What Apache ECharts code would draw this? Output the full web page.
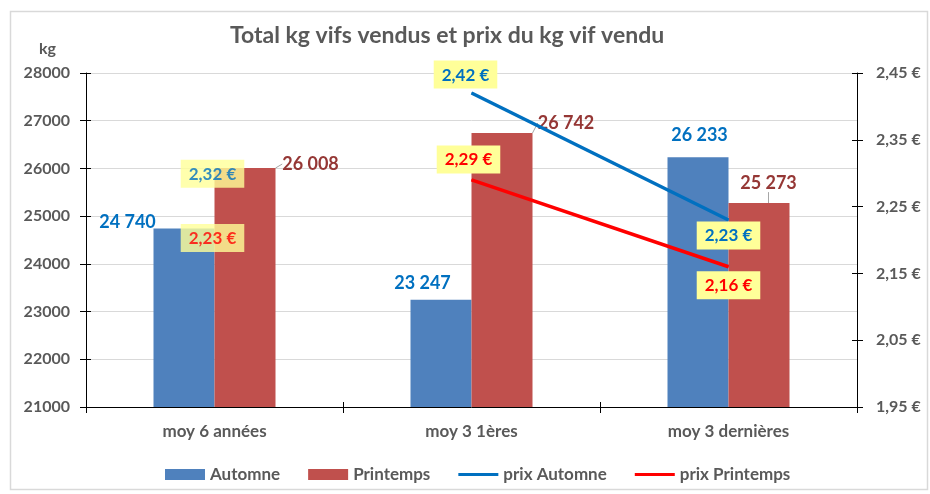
<!DOCTYPE html>
<html>
<head>
<meta charset="utf-8">
<script src="https://cdn.jsdelivr.net/npm/echarts@6/dist/echarts.min.js"></script>
<style>
  html, body { margin: 0; padding: 0; background: #fff; }
  #chart { width: 930px; height: 494px; }
</style>
</head>
<body>
<div id="chart"></div>
<script>
// données
var categories = ['moy 6 années', 'moy 3 1ères', 'moy 3 dernières'];
var kgAutomne = [24740, 23247, 26233];
var kgPrintemps = [26008, 26742, 25273];
var prixAutomne = [2.32, 2.42, 2.23];
var prixPrintemps = [2.23, 2.29, 2.16];
var kgMin = 21000, kgMax = 28000, kgStep = 1000;
var prixMin = 1.95, prixMax = 2.45, prixStep = 0.1;

var FONT = 'Lato';
var GREY = '#595959';

var chart_dom = document.getElementById('chart');
var chart = echarts.init(chart_dom);

// position des étiquettes des barres (par rapport au coin haut-gauche de la barre)
var posAutomne = [[-26, -6], [12, -17], [32, -22]];
var posPrintemps = [[96, -4], null, [40, -20]];

function fmtKg(v) {
    return String(v).replace(/\B(?=(\d{3})+(?!\d))/g, ' ');
}
function fmtPrix(v) {
    return v.toFixed(2).replace('.', ',') + ' €';
}

function barData(values, pos) {
    return values.map(function (v, i) {
        var lab = pos[i] ? {position: pos[i], align: 'center', verticalAlign: 'middle'} : {position: 'top', distance: 5};
        return {value: v, label: lab};
    });
}

// étiquettes jaunes des prix
var prixLabel = function (color) {
    return {
        show: true,
        color: color,
        fontFamily: FONT,
        fontWeight: 'bold',
        fontSize: 17,
        backgroundColor: '#FFFF99',
        padding: [6, 8, 5, 8],
        formatter: function (p) { return fmtPrix(p.value); }
    };
};
var prixAutPos = [{position: 'bottom', distance: 0, offset: [-2, 0]},
                  {position: 'top', distance: 4, offset: [-6, 0]},
                  {position: 'bottom', distance: 1, offset: [0, 0]}];
var prixPrinPos = [{position: 'bottom', distance: 4, offset: [-2, 0]},
                   {position: 'top', distance: 6, offset: [-3, 0]},
                   {position: 'bottom', distance: 4, offset: [0, 0]}];

// la première valeur n'est pas reliée aux suivantes
function lineData(values, pos) {
    return values.map(function (v, i) {
        if (i == 0) return '-';
        return {value: v, label: pos[i]};
    });
}
function firstPoint(values, pos) {
    return values.map(function (v, i) {
        if (i != 0) return '-';
        return {value: v, label: pos[i]};
    });
}

var axisLabelStyle = {color: GREY, fontFamily: FONT, fontWeight: 'bold', fontSize: 16};

var option = {
    animation: false,
    backgroundColor: '#fff',
    title: {
        text: 'Total kg vifs vendus et prix du kg vif vendu',
        left: 225,
        top: 19,
        textStyle: {color: GREY, fontFamily: FONT, fontWeight: 'bold', fontSize: 23}
    },
    graphic: [
        {type: 'rect', shape: {x: 10.5, y: 11.5, width: 917, height: 478}, style: {fill: 'none', stroke: '#D9D9D9', lineWidth: 1.5}, silent: true},
        {type: 'text', left: 39, top: 41, style: {text: 'kg', fill: GREY, font: 'bold 16px ' + FONT}}
    ],
    legend: {
        left: 160,
        top: 461,
        itemWidth: 40,
        itemHeight: 11,
        itemGap: 28,
        textStyle: {color: GREY, fontFamily: FONT, fontWeight: 'bold', fontSize: 17},
        data: [
            {name: 'Automne', icon: 'rect'},
            {name: 'Printemps', icon: 'rect'},
            {name: 'prix Automne', icon: 'path://M0,0 L40,0 L40,3 L0,3 Z'},
            {name: 'prix Printemps', icon: 'path://M0,0 L40,0 L40,3 L0,3 Z'}
        ]
    },
    grid: {left: 86, right: 73, top: 73, bottom: 87},
    xAxis: [
        {
            type: 'category',
            position: 'bottom',
            data: categories,
            axisLine: {lineStyle: {color: '#000', width: 1}},
            axisTick: {show: true, length: 6, lineStyle: {color: '#000'}},
            axisLabel: Object.assign({margin: 16}, axisLabelStyle, {fontSize: 17}),
            splitLine: {show: false}
        },
        {
            // petits traits au-dessus de l'axe
            type: 'category',
            position: 'bottom',
            data: categories,
            axisLine: {show: false},
            axisTick: {show: true, inside: true, length: 5, lineStyle: {color: '#000'}},
            axisLabel: {show: false},
            splitLine: {show: false}
        }
    ],
    yAxis: [
        {
            type: 'value',
            position: 'left',
            min: kgMin, max: kgMax, interval: kgStep,
            axisLine: {show: true, lineStyle: {color: '#000'}},
            axisTick: {show: true, length: 6, lineStyle: {color: '#000'}},
            axisLabel: Object.assign({margin: 16, formatter: function (v) { return String(v); }}, axisLabelStyle),
            splitLine: {show: true, lineStyle: {color: '#D9D9D9', width: 1}}
        },
        {
            type: 'value',
            position: 'right',
            min: prixMin, max: prixMax, interval: prixStep,
            axisLine: {show: true, lineStyle: {color: '#000'}},
            axisTick: {show: true, length: 6, lineStyle: {color: '#000'}},
            axisLabel: Object.assign({margin: 19, formatter: fmtPrix}, axisLabelStyle),
            splitLine: {show: false}
        },
        {
            type: 'value', position: 'left',
            min: kgMin, max: kgMax, interval: kgStep,
            axisLine: {show: false}, axisLabel: {show: false}, splitLine: {show: false},
            axisTick: {show: true, inside: true, length: 5, lineStyle: {color: '#000'}}
        },
        {
            type: 'value', position: 'right',
            min: prixMin, max: prixMax, interval: prixStep,
            axisLine: {show: false}, axisLabel: {show: false}, splitLine: {show: false},
            axisTick: {show: true, inside: true, length: 5, lineStyle: {color: '#000'}}
        }
    ],
    series: [
        {
            name: 'Automne',
            type: 'bar',
            barWidth: 61,
            barGap: '0%',
            itemStyle: {color: '#4F81BD'},
            label: {
                show: true, color: '#0070C0', fontFamily: FONT, fontWeight: 'bold', fontSize: 18,
                formatter: function (p) { return fmtKg(p.value); }
            },
            data: barData(kgAutomne, posAutomne)
        },
        {
            name: 'Printemps',
            type: 'bar',
            barWidth: 61,
            barGap: '0%',
            itemStyle: {color: '#C0504D'},
            label: {
                show: true, color: '#953735', fontFamily: FONT, fontWeight: 'bold', fontSize: 18,
                formatter: function (p) { return fmtKg(p.value); }
            },
            labelLine: {show: true, lineStyle: {color: '#A6A6A6', width: 1}},
            labelLayout: function (params) {
                if (params.dataIndex == 1) return {dx: 64, dy: 4};
                return {};
            },
            data: barData(kgPrintemps, posPrintemps)
        },
        {
            name: 'prix Automne',
            type: 'line',
            yAxisIndex: 1,
            symbol: 'circle',
            symbolSize: 1,
            itemStyle: {color: '#0070C0'},
            lineStyle: {color: '#0070C0', width: 3.5},
            label: prixLabel('#0070C0'),
            data: lineData(prixAutomne, prixAutPos),
            z: 5
        },
        {
            name: 'prix Printemps',
            type: 'line',
            yAxisIndex: 1,
            symbol: 'circle',
            symbolSize: 1,
            itemStyle: {color: '#FF0000'},
            lineStyle: {color: '#FF0000', width: 3.5},
            label: prixLabel('#FF0000'),
            data: lineData(prixPrintemps, prixPrinPos),
            z: 5
        },
        {
            name: 'prix Automne (1)',
            type: 'scatter',
            yAxisIndex: 1,
            symbolSize: 0,
            itemStyle: {color: '#0070C0'},
            label: prixLabel('#0070C0'),
            data: firstPoint(prixAutomne, prixAutPos),
            z: 5
        },
        {
            name: 'prix Printemps (1)',
            type: 'scatter',
            yAxisIndex: 1,
            symbolSize: 0,
            itemStyle: {color: '#FF0000'},
            label: prixLabel('#FF0000'),
            data: firstPoint(prixPrintemps, prixPrinPos),
            z: 5
        }
    ]
};

chart.setOption(option);
</script>
</body>
</html>
